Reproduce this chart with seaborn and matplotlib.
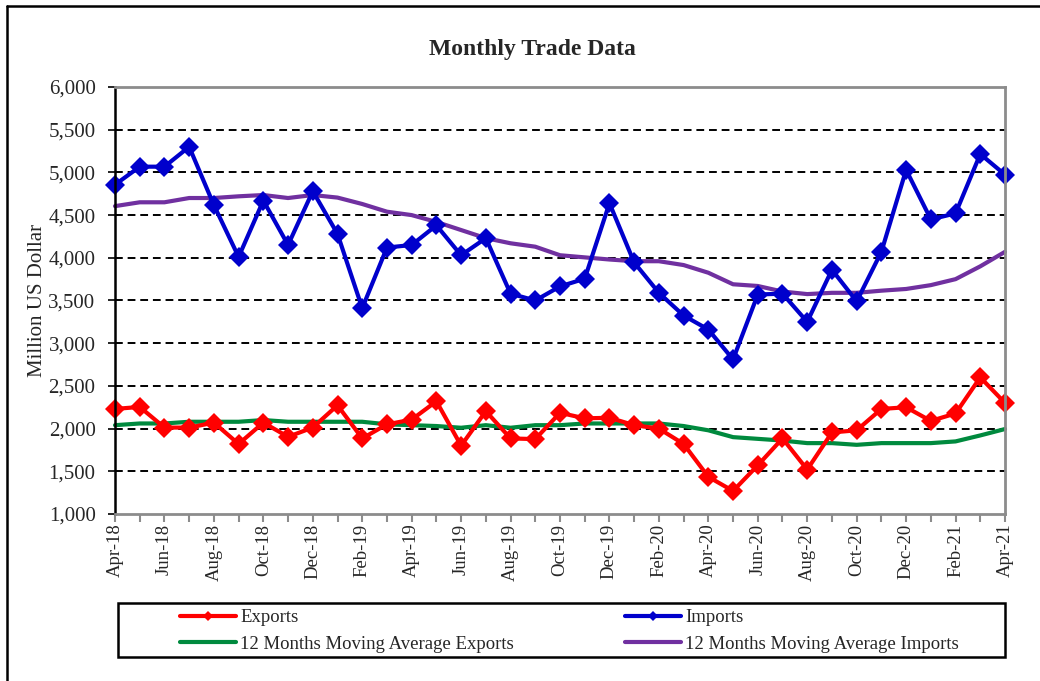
import numpy as np
import pandas as pd
import seaborn as sns
import matplotlib.pyplot as plt
from matplotlib.lines import Line2D
from matplotlib.patches import Rectangle
from matplotlib.ticker import FuncFormatter, MultipleLocator

months = ["Apr-18", "May-18", "Jun-18", "Jul-18", "Aug-18", "Sep-18", "Oct-18", "Nov-18", "Dec-18",
          "Jan-19", "Feb-19", "Mar-19", "Apr-19", "May-19", "Jun-19", "Jul-19", "Aug-19", "Sep-19",
          "Oct-19", "Nov-19", "Dec-19", "Jan-20", "Feb-20", "Mar-20", "Apr-20", "May-20", "Jun-20",
          "Jul-20", "Aug-20", "Sep-20", "Oct-20", "Nov-20", "Dec-20", "Jan-21", "Feb-21", "Mar-21",
          "Apr-21"]

exports = [2230, 2254, 2012, 2012, 2070, 1820, 2070, 1904, 2012, 2273, 1885, 2050, 2105,
           2320, 1800, 2204, 1885, 1877, 2185, 2120, 2127, 2040, 2000, 1820, 1435, 1270,
           1570, 1885, 1520, 1955, 1980, 2230, 2250, 2090, 2177, 2600, 2300]

imports = [4856, 5067, 5067, 5300, 4617, 4010, 4670, 4150, 4780, 4280, 3410, 4120, 4150,
           4380, 4030, 4230, 3580, 3500, 3665, 3755, 4640, 3945, 3590, 3324, 3160, 2810,
           3570, 3580, 3250, 3860, 3490, 4070, 5030, 4450, 4520, 5215, 4973]

ma_exports = [2040, 2060, 2060, 2080, 2080, 2080, 2100, 2080, 2080, 2080, 2080, 2050, 2040,
              2030, 2010, 2040, 2010, 2040, 2040, 2060, 2060, 2060, 2060, 2030, 1980, 1900,
              1880, 1860, 1830, 1830, 1810, 1830, 1830, 1830, 1850, 1920, 1995]

ma_imports = [4605, 4650, 4650, 4700, 4700, 4720, 4735, 4700, 4735, 4705, 4630, 4540, 4500,
              4420, 4325, 4230, 4170, 4130, 4030, 4005, 3980, 3960, 3960, 3915, 3825, 3690,
              3670, 3605, 3575, 3590, 3590, 3615, 3635, 3680, 3750, 3900, 4070]

df = pd.DataFrame({"idx": np.arange(len(months)), "month": months,
                   "Exports": exports, "Imports": imports,
                   "MA Exports": ma_exports, "MA Imports": ma_imports})

sns.set_style("white")
plt.rcParams["font.family"] = ["Liberation Serif", "DejaVu Serif"]

fig = plt.figure(figsize=(10.4, 6.81), dpi=100)
ax = fig.add_axes([115 / 1040, 1 - 514 / 681, 890 / 1040, 427 / 681])

# dashed grid under the lines
for v in range(1500, 6000, 500):
    ax.axhline(v, color="black", lw=1.4, ls=(0, (4, 2.5)), zorder=0)

sns.lineplot(data=df, x="idx", y="MA Exports", color="#008A3E", lw=3, ax=ax,
             label="12 Months Moving Average Exports")
sns.lineplot(data=df, x="idx", y="MA Imports", color="#7030A0", lw=3, ax=ax,
             label="12 Months Moving Average Imports")
sns.lineplot(data=df, x="idx", y="Exports", color="#FF0000", lw=3, marker="D",
             markersize=10, markeredgewidth=0, ax=ax, label="Exports")
sns.lineplot(data=df, x="idx", y="Imports", color="#0000CC", lw=3, marker="D",
             markersize=10, markeredgewidth=0, ax=ax, label="Imports")
for ln in ax.get_lines():
    ln.set_clip_on(False)

ax.set_xlim(0, len(months) - 1)
ax.set_ylim(1000, 6000)
ax.set_xticks(df["idx"][::2])
ax.set_xticklabels(df["month"][::2], rotation=90, fontsize=13.5)
ax.xaxis.set_minor_locator(MultipleLocator(1))
ax.yaxis.set_major_locator(MultipleLocator(500))
ax.yaxis.set_major_formatter(FuncFormatter(lambda v, p: f"{int(v):,}"))
ax.tick_params(axis="y", labelsize=15, direction="out", length=5, width=1.2, color="black",
               left=True, pad=9)
ax.tick_params(axis="x", which="both", direction="out", length=6, width=1.5, color="#8c8c8c",
               bottom=True, pad=1)
ax.set_xlabel("")
ax.set_ylabel("Million US Dollar", fontsize=15, labelpad=1)
fig.text(532 / 1040, 1 - 49 / 681, "Monthly Trade Data", fontsize=17, fontweight="bold",
         ha="center", va="center")

ax.spines["left"].set_color("black")
ax.spines["left"].set_linewidth(1.8)
for side in ["bottom", "right", "top"]:
    ax.spines[side].set_color("#8c8c8c")
    ax.spines[side].set_linewidth(2)
ax.spines["top"].set_linestyle((0, (3, 1)))

handles, labels = ax.get_legend_handles_labels()
ax.get_legend().remove()
lookup = dict(zip(labels, handles))

# legend: frame drawn separately, one legend per column
fig.add_artist(Rectangle((118 / 1040, 1 - 657 / 681), 887 / 1040, 54 / 681,
                         transform=fig.transFigure, fill=False, ec="black", lw=1.8))
col1 = ["Exports", "12 Months Moving Average Exports"]
col2 = ["Imports", "12 Months Moving Average Imports"]
for col, x0 in [(col1, 180), (col2, 625)]:
    fig.legend([lookup[c] for c in col], col, loc="upper left",
               bbox_to_anchor=(x0 / 1040, 1 - 609 / 681), fontsize=13.5, frameon=False,
               handlelength=3.0, handletextpad=0.2, borderpad=0, borderaxespad=0,
               labelspacing=0.5, markerscale=0.5)

# outer chart frame
fig.add_artist(Line2D([7 / 1040, 7 / 1040], [0, 1 - 6 / 681], color="black", lw=1.8))
fig.add_artist(Line2D([7 / 1040, 1], [1 - 6 / 681, 1 - 6 / 681], color="black", lw=1.8))

fig.savefig("out.png", dpi=100)
